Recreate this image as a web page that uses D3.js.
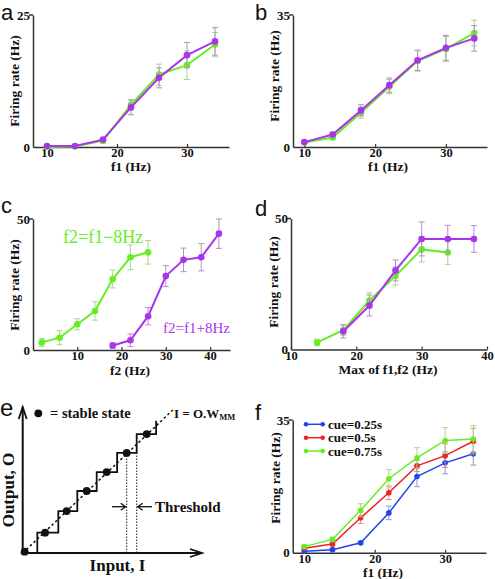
<!DOCTYPE html>
<html><head><meta charset="utf-8">
<script src="https://cdn.jsdelivr.net/npm/d3@7"></script>
<style>body{margin:0;background:#fff}svg{display:block}</style>
</head><body>
<svg id="chart" width="495" height="579"></svg>
<script>
// ---------- DATA ----------
const f1Values = [10, 14, 18, 22, 26, 30, 34];
const aGreen = [0.0, 0.1, 1.2, 8.0, 13.7, 15.5, 19.4];
const aGreenErr = [0.2, 0.2, 0.5, 1.0, 2.0, 2.7, 2.3];
const aPurple = [0.2, 0.2, 1.4, 7.5, 13.1, 17.4, 20.0];
const aPurpleErr = [0.2, 0.2, 0.4, 1.4, 1.9, 2.4, 2.6];

const bGreen = [1.2, 2.5, 9.1, 16.0, 22.8, 26.0, 30.2];
const bGreenErr = [0.3, 0.5, 1.5, 1.9, 2.7, 3.3, 3.4];
const bPurple = [1.3, 3.3, 9.7, 16.4, 23.0, 26.3, 28.8];
const bPurpleErr = [0.3, 0.6, 1.5, 1.9, 2.7, 3.3, 3.4];

const cGreenX = [2, 6, 10, 14, 18, 22, 26];
const cGreen = [2.9, 4.7, 9.8, 14.9, 27.1, 35.4, 37.3];
const cGreenErr = [1.5, 2.7, 2.1, 3.5, 3.4, 4.7, 4.5];
const cPurpleX = [18, 22, 26, 30, 34, 38, 42];
const cPurple = [1.7, 3.7, 12.9, 28.2, 34.4, 35.4, 44.4];
const cPurpleErr = [1.1, 2.4, 3.3, 4.0, 4.5, 5.2, 5.6];

const dGreenX = [14, 18, 22, 26, 30, 34];
const dGreen = [2.7, 7.4, 18.7, 28.1, 38.2, 37.0];
const dGreenErr = [1.3, 2.0, 3.0, 3.5, 4.8, 4.5];
const dPurpleX = [18, 22, 26, 30, 34, 38];
const dPurple = [6.9, 16.8, 30.2, 42.2, 42.2, 42.2];
const dPurpleErr = [2.5, 4.0, 4.0, 6.5, 5.2, 5.1];

const fBlue = [0.4, 0.8, 2.6, 10.5, 20.1, 23.7, 26.1];
const fBlueErr = [0.3, 0.3, 0.4, 1.8, 2.7, 2.9, 3.0];
const fRed = [1.2, 2.3, 9.2, 15.8, 22.9, 25.6, 29.4];
const fRedErr = [0.4, 0.5, 1.5, 1.8, 1.5, 3.1, 3.4];
const fGreen = [1.6, 3.5, 11.2, 19.5, 25.0, 29.6, 30.0];
const fGreenErr = [0.4, 0.6, 1.7, 2.4, 2.7, 3.4, 3.5];
const cueLabels = ["cue=0.25s", "cue=0.5s", "cue=0.75s"];

// schematic (panel e), in arbitrary units
const stepEdges = [0.73, 1.78, 2.73, 3.7, 4.72, 5.7, 6.67];
const stepLevels = [0, 1.04, 2.15, 3.18, 4.15, 5.13, 6.1, 6.78];
const stableX = [0.1, 1.12, 2.2, 3.2, 4.2, 5.2, 6.2];
const stableY = [0.07, 1.04, 2.15, 3.18, 4.15, 5.13, 6.1];
const thresholdX = [5.2, 5.7];

const xTicks = [10, 20, 30];
const xTicksC = [10, 20, 30, 40];
const xTicksD = [10, 20, 30, 40];

// ---------- STYLE ----------
const GREEN = "#66ee22", PURPLE = "#aa33ee", BLUE = "#2244ee", RED = "#ee2222";
const ERRC = {[GREEN]: "#a6d88a", [PURPLE]: "#b58cc8", [BLUE]: "#8a98d8", [RED]: "#e08a8a"};
const SERIF = "'Liberation Serif','Times New Roman',serif";
const SANS = "'Liberation Sans',Arial,sans-serif";
const AXC = "#333";

const svg = d3.select("#chart");

function panel(opt) {
  const g = svg.append("g");
  const x = d3.scaleLinear().domain(opt.xd).range(opt.xr);
  const y = d3.scaleLinear().domain(opt.yd).range(opt.yr);
  const ya = d3.axisLeft(y).tickValues(opt.yd).tickSizeInner(0).tickSizeOuter(0).tickPadding(3);
  const yg = g.append("g").attr("transform", `translate(${opt.xr[0]},0)`).call(ya);
  yg.attr("font-family", SERIF);
  yg.select(".domain").attr("stroke", AXC).attr("stroke-width", 1.5);
  yg.selectAll("text").attr("font-family", SERIF).attr("font-weight", "bold").attr("font-size", 13).attr("fill", "#111");
  g.append("line").attr("x1", opt.xr[0] - 4).attr("x2", opt.xr[0]).attr("y1", y(opt.yd[1])).attr("y2", y(opt.yd[1]))
    .attr("stroke", AXC).attr("stroke-width", 1.5);
  const xa = d3.axisBottom(x).tickValues(opt.xt).tickSizeInner(-3).tickSizeOuter(0).tickPadding(opt.tp || 2).tickFormat(d3.format("d"));
  const xg = g.append("g").attr("transform", `translate(0,${opt.yr[0]})`).call(xa);
  xg.attr("font-family", SERIF);
  xg.select(".domain").attr("stroke", AXC).attr("stroke-width", 1.5);
  xg.selectAll(".tick line").attr("stroke", AXC).attr("stroke-width", 1.2);
  xg.selectAll("text").attr("font-family", SERIF).attr("font-weight", "bold").attr("font-size", 12.5).attr("fill", "#111").attr("dy", "0.65em");
  g.append("text").attr("transform", `translate(${opt.ylx},${opt.yly}) rotate(-90)`).attr("text-anchor", "middle")
    .attr("font-family", SERIF).attr("font-weight", "bold").attr("font-size", 13.5).attr("fill", "#111").text("Firing rate (Hz)");
  g.append("text").attr("x", opt.xlx).attr("y", opt.xly).attr("text-anchor", "middle")
    .attr("font-family", SERIF).attr("font-weight", "bold").attr("font-size", 13.5).attr("fill", "#111").text(opt.xlabel);
  g.append("text").attr("x", opt.lx).attr("y", opt.ly).attr("font-family", SANS).attr("font-size", 22).attr("fill", "#111").text(opt.letter);
  return {g, x, y};
}

function series(p, xs, ys, es, color, r = 3.3, lw = 2) {
  const pts = xs.map((d, i) => ({x: d, y: ys[i], e: es[i]}));
  const eb = p.g.append("g").attr("stroke", ERRC[color]).attr("stroke-width", 1);
  pts.forEach(d => {
    const X = p.x(d.x), y1 = p.y(d.y - d.e), y2 = p.y(d.y + d.e);
    eb.append("line").attr("x1", X).attr("x2", X).attr("y1", y1).attr("y2", y2);
    eb.append("line").attr("x1", X - 3).attr("x2", X + 3).attr("y1", y1).attr("y2", y1);
    eb.append("line").attr("x1", X - 3).attr("x2", X + 3).attr("y1", y2).attr("y2", y2);
  });
  p.g.append("path").datum(pts).attr("fill", "none").attr("stroke", color).attr("stroke-width", lw)
    .attr("d", d3.line().x(d => p.x(d.x)).y(d => p.y(d.y)));
  p.g.append("g").selectAll("circle").data(pts).join("circle")
    .attr("cx", d => p.x(d.x)).attr("cy", d => p.y(d.y)).attr("r", r).attr("fill", color);
}

// Panel a
const pa = panel({xd: [8, 36], xr: [33, 229], yd: [0, 25], yr: [147, 15], xt: xTicks,
  ylx: 19, yly: 81, xlx: 131, xly: 171, xlabel: "f1 (Hz)", letter: "a", lx: 1, ly: 20});
series(pa, f1Values, aGreen, aGreenErr, GREEN);
series(pa, f1Values, aPurple, aPurpleErr, PURPLE);

// Panel b
const pb = panel({xd: [8.4, 35.8], xr: [293, 487], yd: [0, 35], yr: [147, 15], xt: xTicks,
  ylx: 279, yly: 76, xlx: 388, xly: 171, xlabel: "f1 (Hz)", letter: "b", lx: 255, ly: 20});
series(pb, f1Values, bGreen, bGreenErr, GREEN);
series(pb, f1Values, bPurple, bPurpleErr, PURPLE);

// Panel c
const pc = panel({xd: [0, 44.5], xr: [33, 230], yd: [0, 50], yr: [350, 219], xt: xTicksC, tp: 2,
  ylx: 19, yly: 285, xlx: 130, xly: 374.5, xlabel: "f2 (Hz)", letter: "c", lx: 1, ly: 213});
series(pc, cGreenX, cGreen, cGreenErr, GREEN);
series(pc, cPurpleX, cPurple, cPurpleErr, PURPLE);
pc.g.append("text").attr("x", 63).attr("y", 243).attr("font-family", SERIF).attr("font-size", 18).attr("fill", GREEN).text("f2=f1\u22128Hz");
pc.g.append("text").attr("x", 163).attr("y", 333).attr("font-family", SERIF).attr("font-size", 15).attr("fill", PURPLE).text("f2=f1+8Hz");

// Panel d
const pd = panel({xd: [10, 40], xr: [291, 487], yd: [0, 50], yr: [349.5, 218.5], xt: xTicksD,
  ylx: 278, yly: 282, xlx: 388, xly: 373.5, xlabel: "Max of f1,f2 (Hz)", letter: "d", lx: 255, ly: 216});
series(pd, dGreenX, dGreen, dGreenErr, GREEN);
series(pd, dPurpleX, dPurple, dPurpleErr, PURPLE);

// Panel f
const pf = panel({xd: [8.35, 35.8], xr: [292.7, 486], yd: [0, 35], yr: [552.7, 420], xt: xTicks,
  ylx: 280, yly: 478, xlx: 383, xly: 576.5, xlabel: "f1 (Hz)", letter: "f", lx: 255, ly: 420});
series(pf, f1Values, fBlue, fBlueErr, BLUE, 2.8, 1.5);
series(pf, f1Values, fRed, fRedErr, RED, 2.8, 1.5);
series(pf, f1Values, fGreen, fGreenErr, GREEN, 2.8, 1.5);
const legColors = [BLUE, RED, GREEN];
cueLabels.forEach((lab, i) => {
  const yy = 424.3 + i * 13.4;
  pf.g.append("line").attr("x1", 306).attr("x2", 322.7).attr("y1", yy).attr("y2", yy).attr("stroke", legColors[i]).attr("stroke-width", 1.5);
  [306, 322.7].forEach(xx => pf.g.append("circle").attr("cx", xx).attr("cy", yy).attr("r", 2.3).attr("fill", legColors[i]));
  pf.g.append("text").attr("x", 328).attr("y", yy + 4.6).attr("font-family", SERIF).attr("font-weight", "bold")
    .attr("font-size", 13).attr("fill", "#111").text(lab);
});

// Panel e (schematic)
const ge = svg.append("g");
const ex = d3.scaleLinear().domain([0, 9]).range([22.7, 202.7]);
const ey = d3.scaleLinear().domain([0, 7.5]).range([553, 406.75]);
thresholdX.forEach(t => ge.append("line").attr("x1", ex(t)).attr("x2", ex(t)).attr("y1", ey(0)).attr("y2", ey(stepLevels[5]))
  .attr("stroke", "#222").attr("stroke-width", 1).attr("stroke-dasharray", "1.5,1.5"));
ge.append("line").attr("x1", ex(0)).attr("y1", ey(0)).attr("x2", ex(7.5)).attr("y2", ey(7.33))
  .attr("stroke", "#111").attr("stroke-width", 1.5).attr("stroke-dasharray", "2.5,2.5");
const stairs = [[0, 0]];
stepEdges.forEach((e, i) => { stairs.push([e, stepLevels[i]]); stairs.push([e, stepLevels[i + 1]]); });
ge.append("path").attr("d", d3.line().x(d => ex(d[0])).y(d => ey(d[1]))(stairs)).attr("fill", "none").attr("stroke", "#111").attr("stroke-width", 1.8);
ge.selectAll("circle.st").data(stableX).join("circle").attr("cx", d => ex(d)).attr("cy", (d, i) => ey(stableY[i])).attr("r", 3.9).attr("fill", "#111");
ge.append("line").attr("x1", ex(0)).attr("x2", ex(0)).attr("y1", ey(0) + 2).attr("y2", 407).attr("stroke", "#111").attr("stroke-width", 2);
ge.append("path").attr("d", `M${ex(0) - 4},${419} L${ex(0)},${407} L${ex(0) + 4},${419}`).attr("fill", "none").attr("stroke", "#111").attr("stroke-width", 1.8);
ge.append("line").attr("x1", ex(0) - 2).attr("x2", 202).attr("y1", ey(0)).attr("y2", ey(0)).attr("stroke", "#111").attr("stroke-width", 2);
ge.append("path").attr("d", `M${190},${ey(0) - 4} L${202},${ey(0)} L${190},${ey(0) + 4}`).attr("fill", "none").attr("stroke", "#111").attr("stroke-width", 1.8);
const ay = 506.7;
ge.append("line").attr("x1", 112).attr("x2", ex(thresholdX[0]) - 1).attr("y1", ay).attr("y2", ay).attr("stroke", "#111").attr("stroke-width", 1.3);
ge.append("path").attr("d", `M${ex(thresholdX[0]) - 6},${ay - 3.5} L${ex(thresholdX[0]) - 1},${ay} L${ex(thresholdX[0]) - 6},${ay + 3.5}`).attr("fill", "none").attr("stroke", "#111").attr("stroke-width", 1.3);
ge.append("line").attr("x1", ex(thresholdX[1]) + 1).attr("x2", 152).attr("y1", ay).attr("y2", ay).attr("stroke", "#111").attr("stroke-width", 1.3);
ge.append("path").attr("d", `M${ex(thresholdX[1]) + 6},${ay - 3.5} L${ex(thresholdX[1]) + 1},${ay} L${ex(thresholdX[1]) + 6},${ay + 3.5}`).attr("fill", "none").attr("stroke", "#111").attr("stroke-width", 1.3);
ge.append("text").attr("x", 155).attr("y", 511.5).attr("font-family", SERIF).attr("font-weight", "bold").attr("font-size", 15).attr("fill", "#111").text("Threshold");
ge.append("circle").attr("cx", 38.3).attr("cy", 413.3).attr("r", 3.9).attr("fill", "#111");
ge.append("text").attr("x", 50).attr("y", 417.8).attr("font-family", SERIF).attr("font-weight", "bold").attr("font-size", 14.5).attr("fill", "#111").text("= stable state");
const eqT = ge.append("text").attr("x", 174).attr("y", 418).attr("font-family", SERIF).attr("font-weight", "bold").attr("font-size", 13).attr("fill", "#111");
eqT.append("tspan").text("I = O.W");
eqT.append("tspan").attr("font-size", 8.5).attr("dy", 2).text("MM");
ge.append("text").attr("transform", "translate(14,490) rotate(-90)").attr("text-anchor", "middle").attr("font-family", SERIF)
  .attr("font-weight", "bold").attr("font-size", 17).attr("fill", "#111").text("Output, O");
ge.append("text").attr("x", 117.5).attr("y", 571).attr("text-anchor", "middle").attr("font-family", SERIF)
  .attr("font-weight", "bold").attr("font-size", 17).attr("fill", "#111").text("Input, I");
ge.append("text").attr("x", 0).attr("y", 416).attr("font-family", SANS).attr("font-size", 24).attr("fill", "#111").text("e");
</script>
</body></html>
